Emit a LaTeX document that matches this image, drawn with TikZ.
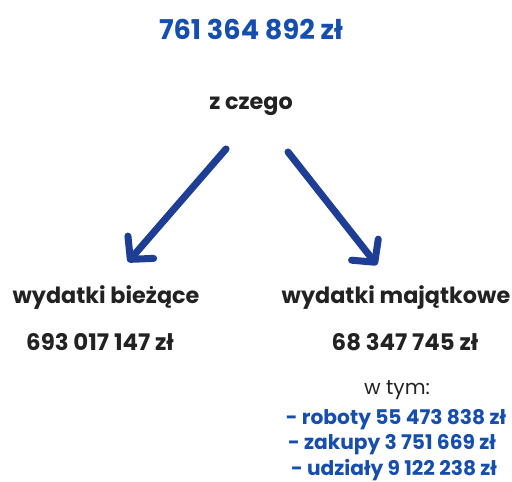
\documentclass[tikz,border=0pt]{standalone}
\usepackage{fontspec}
\setmainfont{Poppins}
\usetikzlibrary{arrows.meta}
\definecolor{sumblue}{RGB}{22,78,176}
\definecolor{arrowblue}{RGB}{30,62,150}
\definecolor{ink}{RGB}{34,34,34}

\begin{document}
\begin{tikzpicture}[x=0.02cm,y=-0.02cm,
  head/.style={font=\bfseries\fontsize{12.7}{15}\selectfont,text=ink},
  amount/.style={font=\bfseries\fontsize{13}{15}\selectfont,text=ink},
  part/.style={font=\bfseries\fontsize{11.5}{14}\selectfont,text=sumblue},
  flow/.style={arrowblue,line width=4pt,line cap=round,
    -{Straight Barb[round,length=0.32cm,width=0.68cm]}}]
\useasboundingbox (0,0) rectangle (512,482);
\node[font=\bfseries\fontsize{15.5}{18}\selectfont,text=sumblue] (total) at (251,30) {761 364 892 zł};
\node[head] (ofwhich) at (251,106) {z czego};
\coordinate (lstart) at (226,149);
\coordinate (lend) at (128,262);
\coordinate (rstart) at (288,152);
\coordinate (rend) at (377,265);
\draw[flow] (lstart) -- (lend);
\draw[flow] (rstart) -- (rend);
\node[head] (current) at (106,298) {wydatki bieżące};
\node[amount] (curval) at (100,342) {693 017 147 zł};
\node[head] (capital) at (396,298) {wydatki majątkowe};
\node[amount] (capval) at (405,342) {68 347 745 zł};
\node[font=\fontsize{11.5}{14}\selectfont,text=ink] (incl) at (397,390) {w tym:};
\node[part] (works) at (396,420) {- roboty 55 473 838 zł};
\node[part] (buys) at (392,445) {- zakupy 3 751 669 zł};
\node[part] (shares) at (394,470) {- udziały 9 122 238 zł};
\end{tikzpicture}
\end{document}
